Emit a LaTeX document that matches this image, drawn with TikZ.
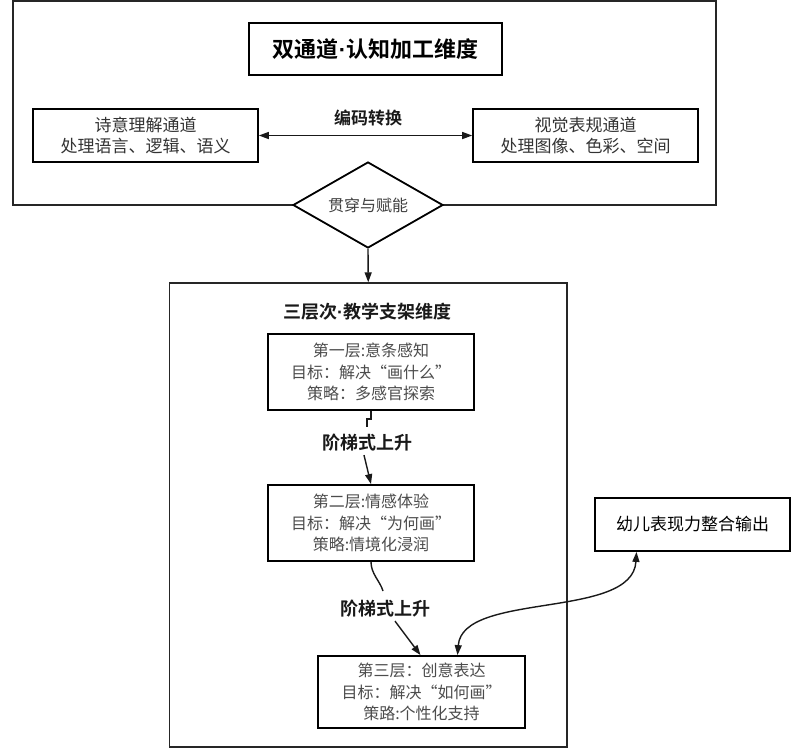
\documentclass[tikz,border=0pt]{standalone}
\usepackage{fontspec}
\setmainfont{Noto Sans CJK SC}[BoldFont={Noto Sans CJK SC Bold}]
\newfontfamily\latinfont{Liberation Sans}
\newcommand{\mydot}{{\latinfont\bfseries\textperiodcentered}}
\usetikzlibrary{shapes.geometric,arrows.meta}
\begin{document}
\begin{tikzpicture}[x=1pt,y=-1pt,
  box/.style={draw=black, line width=1.8pt, fill=white, inner sep=0pt, align=center},
  frame/.style={draw=black!85, line width=1.4pt, inner sep=0pt},
  conn/.style={line width=1.4pt, draw=black!90},
  arr/.style={conn, -{Triangle[length=10pt,width=7pt]}},
  darr/.style={conn, {Triangle[length=10pt,width=7pt]}-{Triangle[length=10pt,width=7pt]}},
  lay/.style={box, font=\fontsize{16}{21.5}\selectfont, text=black!70},
  chan/.style={box, line width=1.6pt, font=\fontsize{17}{21.5}\selectfont, text=black!80},
  ttl/.style={font=\bfseries\fontsize{18}{22}\selectfont, text=black!90},
]
\useasboundingbox (0,0) rectangle (792,750);
% top dimension
\node[frame, minimum width=703, minimum height=204] (outer1) at (364.5,103) {};
\node[box, minimum width=253, minimum height=52, font=\bfseries\fontsize{22}{26}\selectfont] (title) at (375.5,49) {双通道\mydot 认知加工维度};
\node[chan, minimum width=225, minimum height=53] (left) at (145.5,135.5) {诗意理解通道\\处理语言、逻辑、语义};
\node[chan, minimum width=225, minimum height=53] (right) at (585.5,135.5) {视觉表规通道\\处理图像、色彩、空间};
\node[ttl, font=\bfseries\fontsize{17}{20}\selectfont] (enc) at (368,118) {编码转换};
\draw[darr] (left) -- (right);
\node[diamond, draw=black, line width=1.8pt, fill=white, aspect=1.75, minimum width=150, minimum height=86, inner sep=0pt, font=\fontsize{16}{20}\selectfont, text=black!75] (dia) at (368,205) {贯穿与赋能};
% bottom dimension
\node[frame, minimum width=397.5, minimum height=464] (outer2) at (368.25,515) {};
\draw[arr] (dia.south) -- (outer2.north);
\node[ttl] (t2) at (367,312) {三层次\mydot 教学支架维度};
\node[lay, minimum width=206, minimum height=76] (b1) at (371,372) {第一层:意条感知\\目标：解决“画什么”\\策略：多感官探索};
\node[lay, minimum width=206, minimum height=76] (b2) at (371,523) {第二层:情感体验\\目标：解决“为何画”\\策略:情境化浸润};
\node[lay, minimum width=207, minimum height=72] (b3) at (421.5,692) {第三层：创意表达\\目标：解决“如何画”\\策路:个性化支持};
\node[ttl] (l1) at (367,443) {阶梯式上升};
\node[ttl] (l2) at (385,609) {阶梯式上升};
\coordinate (j1) at (367,427);
\coordinate (j2) at (383,591);
\draw[conn] (b1.south) -- ++(0,8) -| (j1);
\draw[arr] ([xshift=-3]l1.south) -- (b2.north);
\draw[conn] (b2.south) .. controls +(0,12) and +(-3,-10) .. (j2);
\draw[arr] ([xshift=10]l2.south) -- ([xshift=-1]b3.north);
% output
\node[box, minimum width=195, minimum height=53, font=\fontsize{17}{20}\selectfont] (out) at (692.5,524.5) {幼儿表现力整合输出};
\draw[darr] ([xshift=36]b3.north) .. controls +(5,-64) and +(-4,68) .. ([xshift=-56]out.south);
\end{tikzpicture}
\end{document}
